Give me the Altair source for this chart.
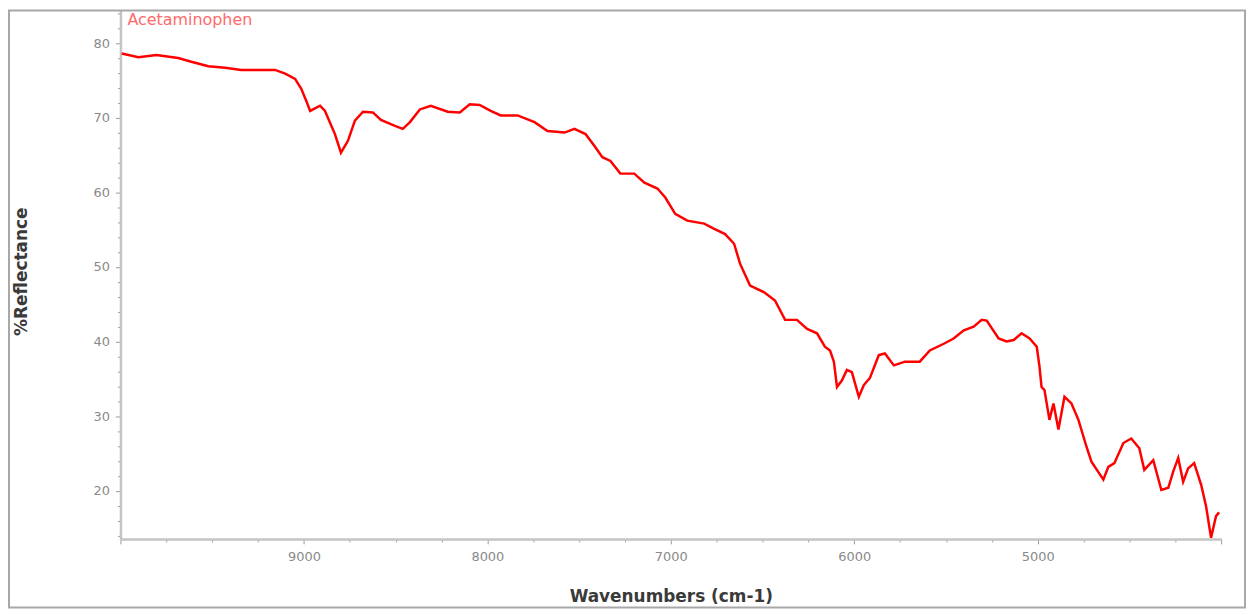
import altair as alt
import pandas as pd

chart_label = ["Acetaminophen"]

wavenumber = [
    9993, 9902, 9804, 9685, 9614, 9521, 9429, 9342, 9157, 9102,
    9048, 9015, 8988, 8966, 8912, 8885, 8831, 8798, 8760, 8722,
    8678, 8624, 8580, 8504, 8461, 8422, 8368, 8308, 8216, 8150,
    8096, 8042, 7982, 7927, 7835, 7743, 7672, 7579, 7525, 7465,
    7416, 7373, 7329, 7275, 7199, 7144, 7073, 7030, 6976, 6910,
    6818, 6763, 6704, 6655, 6622, 6568, 6491, 6432, 6377, 6312,
    6257, 6203, 6160, 6132, 6111, 6094, 6067, 6040, 6013, 5975,
    5947, 5915, 5866, 5833, 5784, 5724, 5643, 5588, 5512, 5458,
    5403, 5349, 5305, 5278, 5213, 5170, 5131, 5088, 5044, 5005,
    4990, 4979, 4963, 4936, 4914, 4887, 4854, 4816, 4778, 4734,
    4707, 4642, 4615, 4582, 4533, 4490, 4446, 4419, 4370, 4326,
    4288, 4261, 4234, 4207, 4180, 4147, 4109, 4082, 4055, 4028,
    4011,
]

reflectance = [
    78.6, 78.1, 78.4, 78.0, 77.5, 76.9, 76.7, 76.4, 76.4, 75.9,
    75.2, 73.9, 72.3, 70.9, 71.6, 70.9, 67.8, 65.3, 66.9, 69.6,
    70.8, 70.7, 69.7, 68.9, 68.5, 69.4, 71.1, 71.6, 70.8, 70.7,
    71.8, 71.7, 70.9, 70.3, 70.3, 69.4, 68.2, 68.0, 68.5, 67.8,
    66.2, 64.7, 64.2, 62.5, 62.5, 61.3, 60.5, 59.3, 57.1, 56.2,
    55.8, 55.1, 54.4, 53.1, 50.4, 47.5, 46.6, 45.5, 42.9, 42.9,
    41.7, 41.1, 39.3, 38.8, 37.3, 33.9, 34.8, 36.2, 35.9, 32.6,
    34.2, 35.1, 38.2, 38.4, 36.8, 37.3, 37.3, 38.8, 39.7, 40.4,
    41.5, 42.0, 42.9, 42.8, 40.4, 40.0, 40.2, 41.1, 40.4, 39.3,
    36.6, 33.9, 33.5, 29.5, 31.7, 28.2, 32.6, 31.7, 29.5, 25.9,
    23.9, 21.5, 23.2, 23.7, 26.4, 27.0, 25.7, 22.8, 24.1, 20.1,
    20.4, 22.6, 24.4, 21.2, 23.0, 23.7, 20.8, 17.9, 13.7, 16.6,
    17.1,
]

x_tick_values = list(range(4000, 10001, 250))
y_tick_values = list(range(14, 85, 2))

df = pd.DataFrame({"wn": wavenumber, "r": reflectance})
label_df = pd.DataFrame({"name": chart_label})
frame_df = pd.DataFrame({"k": [0]})

W, H = 1106, 532

x_axis = alt.Axis(
    values=x_tick_values,
    format="d",
    labelExpr="(datum.value % 1000 === 0 && datum.value > 4000 && datum.value < 10000) ? datum.label : ''",
    tickSize={"condition": {"test": "datum.value % 1000 === 0", "value": 5}, "value": 3},
    tickColor="#9a9a9a",
    tickWidth=1,
    domainColor="#c4c4c4",
    domainWidth=2.5,
    labelColor="#8a8a8a",
    labelFont="DejaVu Sans",
    labelFontSize=13,
    labelPadding=7,
    labelFlush=False,
    labelOverlap=False,
    labelBound=False,
    grid=False,
    title="Wavenumbers (cm-1)",
    titleFont="DejaVu Sans",
    titleFontSize=17,
    titleFontWeight="bold",
    titleColor="#3a3a3a",
    titleAlign="center",
    titleBaseline="middle",
    titleX=W / 2,
    titleY=58,
)

y_axis = alt.Axis(
    values=y_tick_values,
    labelExpr="datum.value % 10 === 0 ? datum.label : ''",
    tickSize={"condition": {"test": "datum.value % 10 === 0", "value": 5}, "value": 3},
    tickColor="#9a9a9a",
    tickWidth=1,
    domainColor="#c4c4c4",
    domainWidth=2.5,
    labelColor="#8a8a8a",
    labelFont="DejaVu Sans",
    labelFontSize=13,
    labelPadding=6,
    labelFlush=False,
    labelOverlap=False,
    labelBound=False,
    grid=False,
    title="%Reflectance",
    titleFont="DejaVu Sans",
    titleFontSize=17,
    titleFontWeight="bold",
    titleColor="#3a3a3a",
    titleAngle=-90,
    titleAlign="center",
    titleBaseline="middle",
    titleX=-99,
    titleY=263,
)

line = alt.Chart(df).mark_line(color="#ff0000", strokeWidth=2.5, clip=True).encode(
    x=alt.X("wn:Q", scale=alt.Scale(domain=[4000, 10000], reverse=True, nice=False, zero=False), axis=x_axis),
    y=alt.Y("r:Q", scale=alt.Scale(domain=[13.55, 84.5], nice=False, zero=False), axis=y_axis),
    order=alt.Order("wn:Q", sort="descending"),
)

label = alt.Chart(label_df).mark_text(
    align="left", baseline="middle", font="DejaVu Sans", fontSize=16, color="#ff6a6a"
).encode(
    x=alt.value(7),
    y=alt.value(11),
    text="name:N",
)

frame = alt.Chart(frame_df).mark_rect(
    fill=None, fillOpacity=0, stroke="#a8a8a8", strokeWidth=2, clip=False
).encode(
    x=alt.value(-112),
    x2=alt.value(1130),
    y=alt.value(1),
    y2=alt.value(601),
)

chart = alt.layer(frame, line, label).properties(
    width=W,
    height=H,
    padding={"left": 113, "top": 0, "right": 30, "bottom": 72},
    autosize=alt.AutoSizeParams(type="none"),
).configure(background="white").configure_view(stroke=None)

chart.save("out.html", embed_options={"renderer": "svg", "actions": False})
